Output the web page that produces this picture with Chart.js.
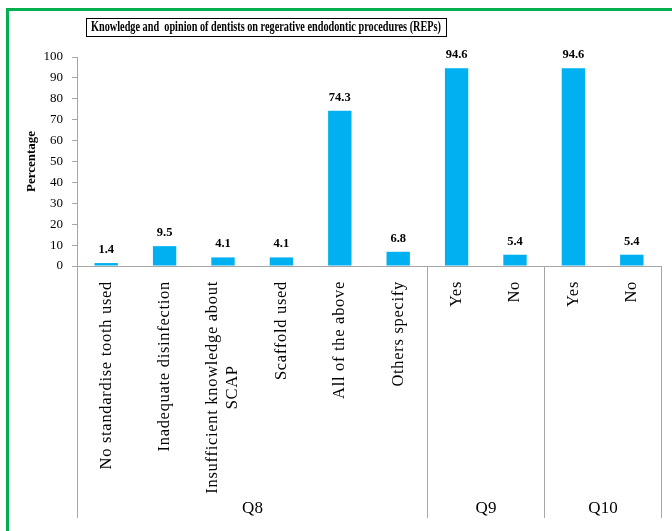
<!DOCTYPE html>
<html>
<head>
<meta charset="utf-8">
<script src="https://cdn.jsdelivr.net/npm/chart.js@4/dist/chart.umd.min.js"></script>
<style>
  html, body { margin: 0; padding: 0; background: #fff; overflow: hidden; }
  #frame {
    position: absolute; left: 6px; top: 8px; width: 720px; height: 600px;
    border-left: 3px solid #00B050; border-top: 3px solid #00B050;
  }
  #chart { position: absolute; left: 0; top: 0; }
</style>
</head>
<body>
<div id="frame"></div>
<canvas id="chart" width="672" height="531"></canvas>
<script>
// survey answers, percent of respondents
const categories = [
  'No standardise tooth used',
  'Inadequate disinfection',
  ['Insufficient knowledge about', 'SCAP'],
  'Scaffold used',
  'All of the above',
  'Others specify',
  'Yes', 'No',
  'Yes', 'No'
];
const percentages = [1.4, 9.5, 4.1, 4.1, 74.3, 6.8, 94.6, 5.4, 94.6, 5.4];
const questions = ['Q8', 'Q9', 'Q10'];
const questionSizes = [6, 2, 2];
const yTicks = [0, 10, 20, 30, 40, 50, 60, 70, 80, 90, 100];

const chartTitle = 'Knowledge and  opinion of dentists on regerative endodontic procedures (REPs)';
const axisGrey = '#A6A6A6';

Chart.defaults.font.family = '"Liberation Serif", "Times New Roman", serif';
Chart.defaults.color = '#000';

// boxed title in the top left, squeezed to the box width
const titleBox = {
  id: 'titleBox',
  afterDraw(chart) {
    const c = chart.ctx;
    c.save();
    c.font = 'bold 14px "Liberation Serif"';
    const w = c.measureText(chartTitle).width;
    const target = 350;
    const sx = target / w;
    const cx = 266, cy = 27.5;
    c.strokeStyle = '#000';
    c.lineWidth = 1;
    c.strokeRect(86.5, 18.5, 360, 18);
    c.translate(cx, cy);
    c.scale(sx, 1);
    c.textAlign = 'center';
    c.textBaseline = 'middle';
    c.fillStyle = '#000';
    c.fillText(chartTitle, 0, 0);
    c.restore();
  }
};

// value above each bar
const barValues = {
  id: 'barValues',
  afterDatasetsDraw(chart) {
    const c = chart.ctx;
    const meta = chart.getDatasetMeta(0);
    c.save();
    c.font = 'bold 12.5px "Liberation Serif"';
    c.textAlign = 'center';
    c.textBaseline = 'bottom';
    c.fillStyle = '#000';
    meta.data.forEach((bar, i) => {
      c.fillText(percentages[i].toFixed(1), bar.x, bar.y - 7);
    });
    c.restore();
  }
};

// vertical category labels; lines of a wrapped label are centred on each other
const categoryLabels = {
  id: 'categoryLabels',
  afterDraw(chart) {
    const x = chart.scales.x;
    const c = chart.ctx;
    const top = chart.chartArea.bottom + 15;
    const lineGap = 20;
    c.save();
    c.font = '16.5px "Liberation Serif"';
    c.letterSpacing = '0.7px';
    c.fillStyle = '#000';
    c.textAlign = 'center';
    c.textBaseline = 'middle';
    categories.forEach((label, i) => {
      const lines = Array.isArray(label) ? label : [label];
      const cx = x.getPixelForTick(i);
      const longest = Math.max(...lines.map(l => c.measureText(l).width));
      lines.forEach((line, li) => {
        const off = (li - (lines.length - 1) / 2) * lineGap;
        c.save();
        c.translate(cx + off, top + longest / 2);
        c.rotate(-Math.PI / 2);
        c.fillText(line, 0, 0);
        c.restore();
      });
    });
    c.restore();
  }
};

// question groups under the category labels
const questionGroups = {
  id: 'questionGroups',
  afterDraw(chart) {
    const x = chart.scales.x;
    const c = chart.ctx;
    const top = chart.chartArea.bottom;
    const bottom = x.bottom;
    const step = x.width / categories.length;
    c.save();
    c.strokeStyle = axisGrey;
    c.lineWidth = 1;
    c.font = '17px "Liberation Serif"';
    c.textAlign = 'center';
    c.textBaseline = 'middle';
    c.fillStyle = '#000';
    let start = 0;
    const edge = (idx) => Math.round(x.getPixelForValue(idx) - step / 2) + 0.5;
    c.beginPath();
    c.moveTo(edge(0), top);
    c.lineTo(edge(0), bottom);
    questions.forEach((q, gi) => {
      const end = start + questionSizes[gi];
      const left = edge(start);
      const right = edge(end);
      c.moveTo(right, top);
      c.lineTo(right, bottom);
      c.fillText(q, (left + right) / 2, bottom - 9);
      start = end;
    });
    c.stroke();
    c.restore();
  }
};

new Chart(document.getElementById('chart'), {
  type: 'bar',
  data: {
    labels: categories,
    datasets: [{
      data: percentages,
      backgroundColor: '#00B0F0',
      barPercentage: 0.4,
      categoryPercentage: 1
    }]
  },
  options: {
    responsive: false,
    animation: false,
    layout: { padding: { top: 57, right: 11, bottom: 13, left: 0 } },
    plugins: {
      legend: { display: false },
      tooltip: { enabled: false }
    },
    scales: {
      x: {
        grid: { display: false },
        border: { display: true, color: axisGrey },
        ticks: { display: false },
        afterFit(scale) { scale.height = 252; }
      },
      y: {
        min: 0,
        max: 100,
        afterBuildTicks(scale) { scale.ticks = yTicks.map(v => ({ value: v })); },
        grid: { drawOnChartArea: false, drawTicks: true, tickLength: 5, color: axisGrey },
        border: { display: true, color: axisGrey },
        ticks: { padding: 9, font: { size: 13 }, color: '#000' },
        title: {
          display: true,
          text: 'Percentage',
          font: { size: 13, weight: 'bold' },
          color: '#000',
          padding: { top: 24, bottom: 0 }
        },
        afterFit(scale) { scale.width = 77; }
      }
    }
  },
  plugins: [titleBox, barValues, categoryLabels, questionGroups]
});
</script>
</body>
</html>
